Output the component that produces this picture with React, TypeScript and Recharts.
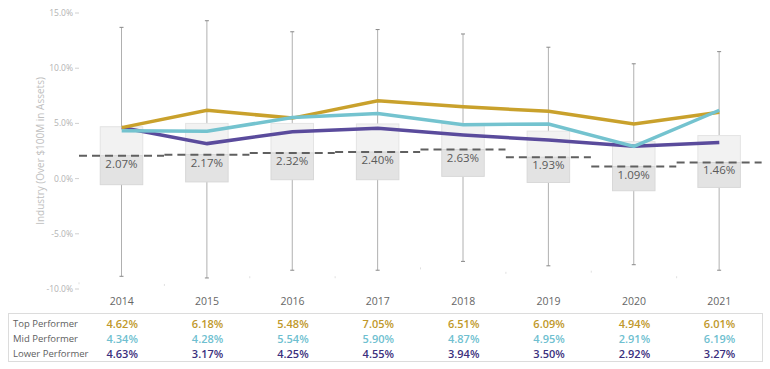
import React from 'react';
import { ComposedChart, XAxis, YAxis, Bar, Line } from 'recharts';

const years = ['2014', '2015', '2016', '2017', '2018', '2019', '2020', '2021'];
const topPerformer = [4.62, 6.18, 5.48, 7.05, 6.51, 6.09, 4.94, 6.01];
const midPerformer = [4.34, 4.28, 5.54, 5.9, 4.87, 4.95, 2.91, 6.19];
const lowerPerformer = [4.63, 3.17, 4.25, 4.55, 3.94, 3.5, 2.92, 3.27];
const medians = [2.07, 2.17, 2.32, 2.4, 2.63, 1.93, 1.09, 1.46];
const lowerQuartile = [-0.55, -0.3, -0.1, -0.1, 0.2, -0.35, -1.1, -0.8];
const upperQuartile = [4.7, 5.0, 5.0, 4.95, 5.0, 4.3, 3.35, 3.9];
const whiskerLow = [-8.85, -9.0, -8.3, -8.3, -7.5, -7.9, -7.8, -8.3];
const whiskerHigh = [13.7, 14.3, 13.3, 13.5, 13.1, 11.9, 10.4, 11.5];
const yTicks = [-10, -5, 0, 5, 10, 15];

const GOLD = '#c9a12c';
const TEAL = '#74c3cf';
const PURPLE = '#5a4b9c';

const data = years.map((year, i) => ({
    year,
    top: topPerformer[i],
    mid: midPerformer[i],
    lower: lowerPerformer[i],
    median: medians[i],
    q1: lowerQuartile[i],
    q3: upperQuartile[i],
    wLow: whiskerLow[i],
    wHigh: whiskerHigh[i],
    range: [whiskerLow[i], whiskerHigh[i]],
}));

const W = 770;
const CHART_H = 310;
const LEFT = 79;
const RIGHT = 8;
const FONT = '"Open Sans", sans-serif';

// one bar per band, spanning the whiskers; box and median drawn inside it
const BoxShape = (props: any) => {
    const { x, y, width, height, payload } = props;
    const top = Math.min(y, y + height);
    const h = Math.abs(height);
    const k = h / (payload.wHigh - payload.wLow);
    const toY = (v: number) => top + (payload.wHigh - v) * k;
    const cx = x + width / 2;
    const bw = width * 0.5;
    const yQ3 = toY(payload.q3);
    const yMed = toY(payload.median);
    const yQ1 = toY(payload.q1);
    const yHi = toY(payload.wHigh);
    const yLo = toY(payload.wLow);
    return (
        <g>
            <line x1={cx} x2={cx} y1={yHi} y2={yLo} stroke="#b0b0b0" strokeWidth={1} />
            <line x1={cx - 2} x2={cx + 2} y1={yHi} y2={yHi} stroke="#888" strokeWidth={1} />
            <line x1={cx - 2} x2={cx + 2} y1={yLo} y2={yLo} stroke="#888" strokeWidth={1} />
            <rect x={cx - bw / 2} y={yQ3} width={bw} height={yMed - yQ3} fill="#f2f2f2" stroke="#e4e4e4" strokeWidth={1} />
            <rect x={cx - bw / 2} y={yMed} width={bw} height={yQ1 - yMed} fill="#e3e3e3" stroke="#d8d8d8" strokeWidth={1} />
            <line x1={x} x2={x + width} y1={yMed} y2={yMed} stroke="#606060" strokeWidth={2} strokeDasharray="8 5" />
            <text x={cx} y={yMed + 12} textAnchor="middle" fontSize={11.5} fill="#5a5a5a" fontFamily={FONT}>
                {payload.median.toFixed(2)}%
            </text>
            <line x1={x} x2={x} y1={top + h + 6} y2={top + h + 8} stroke="#e0e0e0" strokeWidth={1} />
        </g>
    );
};

const rows = [
    { name: 'Top Performer', values: topPerformer, color: '#c0982a' },
    { name: 'Mid Performer', values: midPerformer, color: '#6fbfd0' },
    { name: 'Lower Performer', values: lowerPerformer, color: '#3b2f7d' },
];

export default function App() {
    const band = (W - LEFT - RIGHT) / years.length;
    return (
        <div style={{ position: 'absolute', left: 0, top: 0, width: W, height: 369, background: '#fff' }}>
            <ComposedChart
                width={W}
                height={CHART_H}
                data={data}
                barCategoryGap={0}
                margin={{ top: 13, right: RIGHT, left: 0, bottom: 0 }}
                style={{ fontFamily: FONT }}
            >
                <XAxis
                    dataKey="year"
                    height={21}
                    axisLine={false}
                    tickLine={false}
                    tickSize={0}
                    tickMargin={9}
                    tick={{ fontSize: 10.5, fill: '#666' }}
                    interval={0}
                />
                <YAxis
                    width={LEFT}
                    domain={[-10, 15]}
                    ticks={yTicks}
                    axisLine={false}
                    tickLine={{ stroke: '#d0d0d0' }}
                    tickSize={4}
                    tickMargin={2}
                    tick={{ fontSize: 8.5, fill: '#b3b3b3' }}
                    tickFormatter={(v: number) => v.toFixed(1) + '%'}
                    label={{
                        value: 'Industry (Over $100M in Assets)',
                        angle: -90,
                        position: 'insideLeft',
                        offset: 40,
                        style: { textAnchor: 'middle', fontSize: 10, fill: '#c0c0c0' },
                    }}
                />
                <Bar dataKey="range" shape={<BoxShape />} isAnimationActive={false} />
                <Line type="linear" dataKey="lower" stroke={PURPLE} strokeWidth={3.5} dot={false} isAnimationActive={false} />
                <Line type="linear" dataKey="top" stroke={GOLD} strokeWidth={3.5} dot={false} isAnimationActive={false} />
                <Line type="linear" dataKey="mid" stroke={TEAL} strokeWidth={3.5} dot={false} isAnimationActive={false} />
            </ComposedChart>
            <table
                style={{
                    position: 'absolute',
                    left: 8,
                    top: 313,
                    width: W - RIGHT - 8,
                    borderCollapse: 'collapse',
                    tableLayout: 'fixed',
                    border: '1px solid #dcdcdc',
                    fontFamily: FONT,
                }}
            >
                <colgroup>
                    <col style={{ width: LEFT - 8 }} />
                    {years.map((y) => (
                        <col key={y} style={{ width: band }} />
                    ))}
                </colgroup>
                <tbody>
                    {rows.map((r, ri) => (
                        <tr key={r.name} style={{ height: 15 }}>
                            <td
                                style={{
                                    padding: ri === 0 ? '2px 0 0 4px' : '0 0 0 4px',
                                    fontSize: 9.5,
                                    color: '#606060',
                                    whiteSpace: 'nowrap',
                                    lineHeight: '15px',
                                }}
                            >
                                {r.name}
                            </td>
                            {r.values.map((v, i) => (
                                <td
                                    key={i}
                                    style={{
                                        textAlign: 'center',
                                        padding: ri === 0 ? '2px 0 0 0' : 0,
                                        fontSize: 11,
                                        fontWeight: 600,
                                        color: r.color,
                                        lineHeight: '15px',
                                    }}
                                >
                                    {v.toFixed(2)}%
                                </td>
                            ))}
                        </tr>
                    ))}
                </tbody>
            </table>
        </div>
    );
}
